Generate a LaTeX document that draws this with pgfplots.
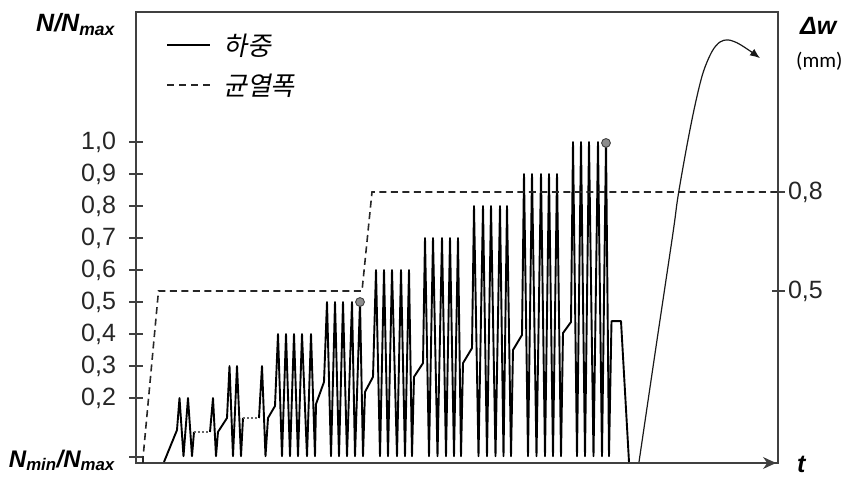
\documentclass[border=0pt]{standalone}
\usepackage{fontspec}
\setmainfont{Liberation Sans}
\newfontfamily\kr[FakeSlant=0.2]{Noto Sans CJK KR}
\newfontfamily\carlitofont{Carlito}
\usepackage{pgfplots}
\pgfplotsset{compat=1.18}
\usetikzlibrary{arrows.meta}
\definecolor{framec}{gray}{0.25}
\definecolor{markgray}{gray}{0.55}

\begin{document}
\begin{tikzpicture}
\path[use as bounding box] (-136bp,-15bp) rectangle (709bp,463bp);
\begin{axis}[
  at={(0,0)}, anchor=south west,
  scale only axis, width=642bp, height=451bp,
  xmin=136, xmax=778, ymin=-0.003125, ymax=1.40625,
  axis line style={framec, line width=1.1bp},
  xtick=\empty,
  ytick={0.2,0.3,0.4,0.5,0.6,0.7,0.8,0.9,1.0},
  ytick pos=left,
  extra y ticks={0.0156},
  extra y tick labels={},
  tick align=center,
  major tick length=13bp,
  tick style={framec, line width=1.1bp},
  ticklabel style={font=\fontsize{25bp}{29bp}\selectfont, text=black!85},
  yticklabel style={xshift=-10bp, /pgf/number format/.cd, fixed, fixed zerofill, precision=1, use comma, assume math mode=true},
  legend style={draw=none, fill=none, at={(axis cs:166,1.345)}, anchor=north west,
    inner sep=0pt, font=\kr\fontsize{26bp}{31bp}\selectfont, row sep=13bp,
    /tikz/every odd column/.append style={column sep=10bp}},
  legend cell align=left,
  legend image code/.code={\draw[#1] (0bp,0bp) -- (43bp,0bp);},
  clip=false,
]
% load history (solid parts)
\addplot[black, line width=1.9bp, line join=round] coordinates {
(164,0) (177,0.10) (179.5,0.2) (183.5,0.018) (188,0.2) (192,0.018) (194,0.094)};
\addlegendentry{하중}
\addlegendimage{black!85, line width=1.6bp, dash pattern=on 7bp off 5bp}
\addlegendentry{균열폭}
\addplot[black!60, line width=1.4bp, dash pattern=on 2bp off 2bp, forget plot] coordinates {
(194,0.094) (210,0.094)};
\addplot[black, line width=1.9bp, line join=round, forget plot] coordinates {
(210,0.094) (213,0.2) (216,0.018) (218,0.094) (227,0.1375) (229.5,0.3) (233,0.018)
(237,0.3) (241,0.018) (243,0.1375)};
\addplot[black!60, line width=1.4bp, dash pattern=on 2bp off 2bp, forget plot] coordinates {
(243,0.1375) (259,0.1375)};
\addplot[black, line width=1.9bp, line join=round, forget plot] coordinates {
(259,0.1375) (262,0.3) (265.5,0.018) (268,0.1375) (275,0.175)
(278,0.4) (282,0.018) (286,0.4) (290,0.018) (294,0.4) (298,0.018) (302,0.4) (307,0.018) (311,0.4) (315,0.018)
(316,0.181) (324,0.25)
(327,0.5) (331,0.018) (335,0.5) (339,0.018) (343,0.5) (347,0.018) (352,0.5) (355,0.018) (360,0.5) (363,0.018)
(365,0.219) (373,0.266)
(376,0.6) (380,0.018) (384,0.6) (388,0.018) (392,0.6) (397,0.018) (401,0.6) (405,0.018) (409,0.6) (412,0.018)
(414,0.266) (423,0.309)
(425,0.7) (429,0.018) (433,0.7) (437.5,0.018) (442,0.7) (446,0.018) (450,0.7) (454,0.018) (458,0.7) (461,0.018)
(463,0.309) (472,0.356)
(474,0.8) (478.5,0.018) (483,0.8) (487,0.018) (491,0.8) (495.5,0.018) (500,0.8) (503.5,0.018) (507,0.8) (511,0.018)
(513,0.35) (522,0.397)
(524,0.9) (528,0.018) (532,0.9) (536.5,0.018) (541,0.9) (545,0.018) (549,0.9) (553,0.018) (557,0.9) (561,0.018)
(563,0.403) (571,0.4375)
(573,1.0) (577,0.018) (581,1.0) (585,0.018) (589,1.0) (593.5,0.018) (598,1.0) (602,0.018) (606,1.0) (609,0.018)
(611.5,0.44) (621,0.44) (629,0)};
% final loading to failure
\addplot[black!90, line width=1.2bp, smooth, tension=0.55, forget plot, -{Latex[length=10bp,width=8bp]}] coordinates {
(639,0) (656,0.36) (673,0.716) (678,0.83) (687,0.99) (695,1.115) (703,1.216) (712,1.283) (720,1.3125) (728,1.319) (737,1.31) (745,1.295) (753,1.278) (760,1.262)};
% failure markers
\addplot[only marks, mark=*, mark size=4.4bp, mark options={fill=markgray, draw=black!75, line width=0.9bp}, forget plot] coordinates {(360,0.5) (606,0.997)};
% x-axis arrow
\draw[framec, line width=1.1bp, -{Stealth[length=13bp,width=12bp]}] (axis cs:755,-0.003125) -- (axis cs:776,-0.003125);
\end{axis}
\begin{axis}[
  at={(0,0)}, anchor=south west,
  scale only axis, width=642bp, height=451bp,
  xmin=136, xmax=778, ymin=-0.021212, ymax=1.345455,
  axis x line=none, axis y line*=right,
  axis line style={framec, line width=1.1bp},
  ytick={0.5,0.8},
  tick align=center,
  major tick length=13bp,
  tick style={framec, line width=1.1bp},
  ticklabel style={font=\fontsize{25bp}{29bp}\selectfont, text=black!85},
  yticklabel style={/pgf/number format/.cd, fixed, fixed zerofill, precision=1, use comma, assume math mode=true},
  clip=false,
]
\addplot[black!85, line width=1.6bp, dash pattern=on 7bp off 4.5bp] coordinates {
(143,-0.0212) (143,-0.006) (158.5,0.5) (362,0.5) (372,0.8) (778,0.8)};
\end{axis}
% axis titles
\node[anchor=base east, font=\fontsize{25bp}{29bp}\selectfont\bfseries\itshape, inner sep=0pt] at (-21bp,431bp) {N/N\textsubscript{max}};
\node[anchor=base east, font=\fontsize{24bp}{28bp}\selectfont\bfseries\itshape, inner sep=0pt] at (-21bp,-4bp) {N\textsubscript{min}/N\textsubscript{max}};
\node[anchor=base west, font=\fontsize{25bp}{29bp}\selectfont\bfseries\itshape, inner sep=0pt] at (664bp,428bp) {Δw};
\node[anchor=base west, font=\carlitofont\fontsize{21bp}{25bp}\selectfont, inner sep=0pt] at (660bp,395bp) {(mm)};
\node[anchor=base west, font=\fontsize{25bp}{29bp}\selectfont\bfseries\itshape, inner sep=0pt] at (661bp,-9bp) {t};
\end{tikzpicture}
\end{document}
